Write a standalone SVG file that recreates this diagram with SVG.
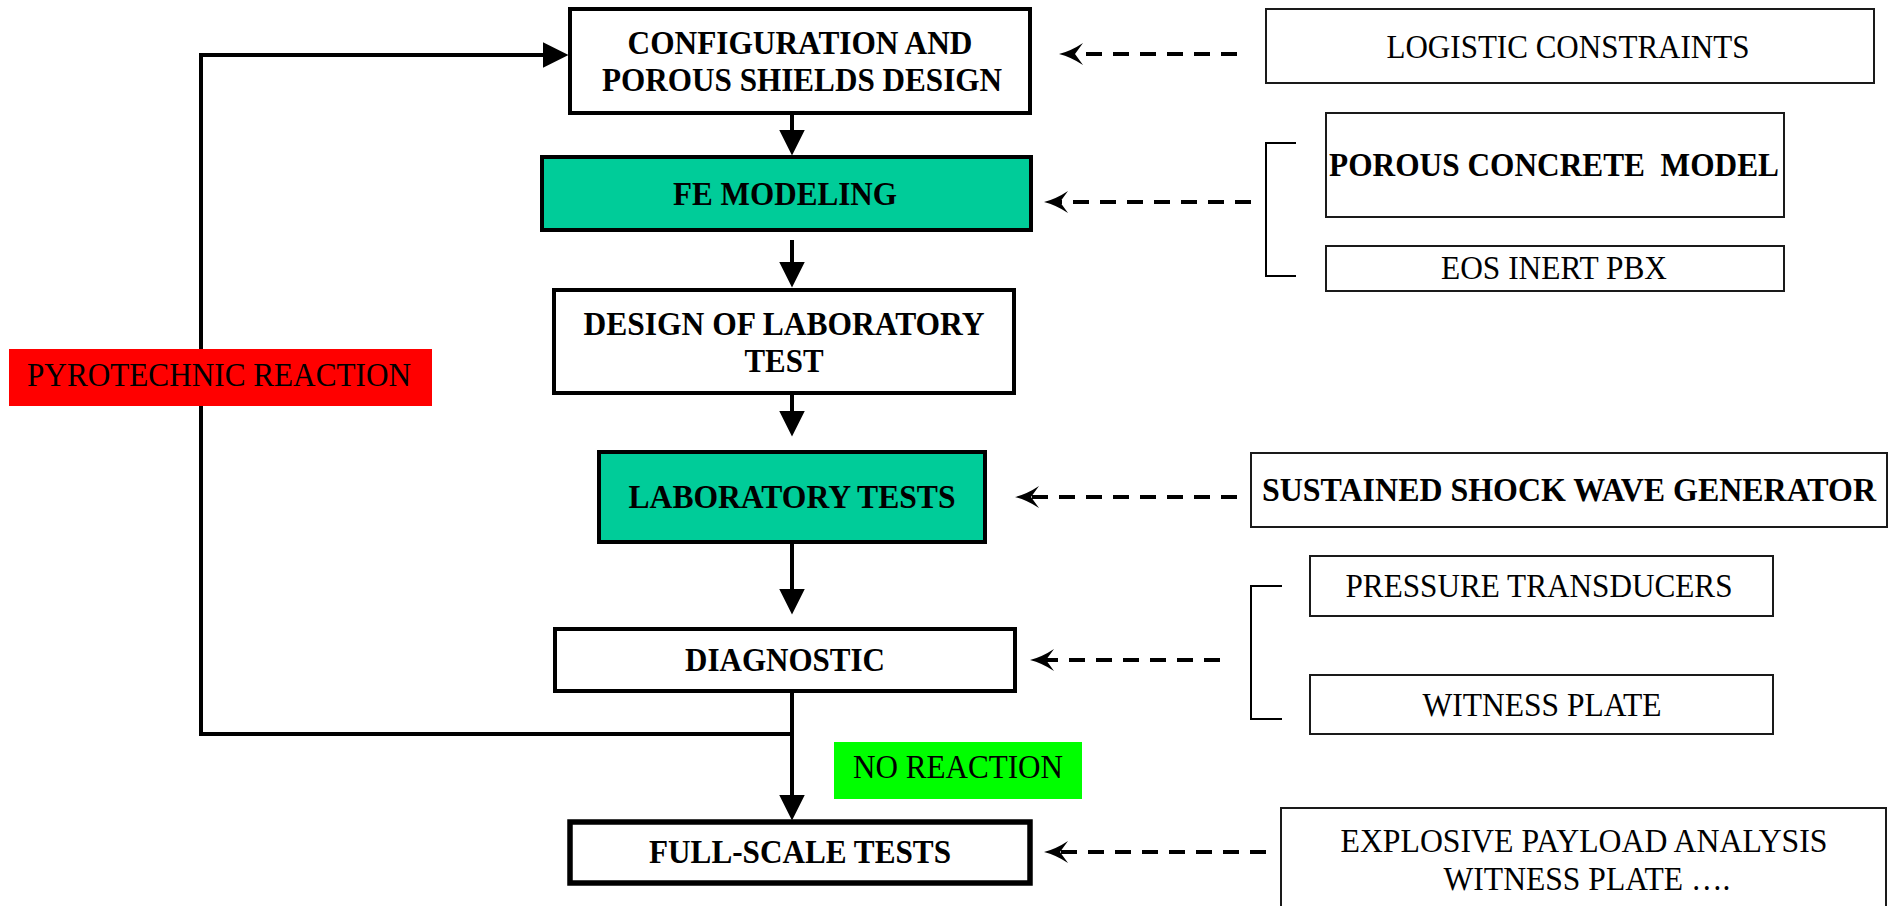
<svg xmlns="http://www.w3.org/2000/svg" width="1895" height="906" viewBox="0 0 1895 906">
<style>
  .bg{fill:#ffffff}
  .main{fill:#ffffff;stroke:#000;stroke-width:4}
  .teal{fill:#00CC99;stroke:#000;stroke-width:4}
  .thick{fill:#ffffff;stroke:#000;stroke-width:5.5}
  .side{fill:#ffffff;stroke:#1a1a1a;stroke-width:2}
  .red{fill:#FF0000}
  .green{fill:#00FF00}
  .tb{font-family:"Liberation Serif","Times New Roman",serif;font-size:33px;font-weight:bold;fill:#000;text-anchor:middle}
  .tr{font-family:"Liberation Serif","Times New Roman",serif;font-size:33px;fill:#000;text-anchor:middle}
  .solid{fill:none;stroke:#000;stroke-width:4;marker-end:url(#ah)}
  .dash{fill:none;stroke:#000;stroke-width:4;stroke-dasharray:16 11;marker-end:url(#dh)}
  .bracket{fill:none;stroke:#000;stroke-width:2}
</style>
<defs>
  <marker id="ah" viewBox="0 0 26 26" refX="0.5" refY="13" markerWidth="26" markerHeight="26" markerUnits="userSpaceOnUse" orient="auto">
    <path d="M0,0 L26,13 L0,26 Z" fill="#000"/>
  </marker>
  <marker id="dh" viewBox="0 0 24 22" refX="8" refY="11" markerWidth="24" markerHeight="22" markerUnits="userSpaceOnUse" orient="auto">
    <path d="M24,11 Q12,8 0,0 L8,11 L0,22 Q12,14 24,11 Z" fill="#000"/>
  </marker>
</defs>
<rect class="bg" x="0" y="0" width="1895" height="906"/>

<g id="connectors">
  <path class="solid" d="M792,113 V130"/>
  <path class="solid" d="M792,240 V262"/>
  <path class="solid" d="M792,394 V411"/>
  <path class="solid" d="M792,543 V589"/>
  <path class="solid" d="M792,691 V795"/>
  <path class="solid" d="M792,734 H201 V55 H543" stroke-linejoin="miter"/>
  <path class="dash" d="M1237,54 H1075"/>
  <path class="dash" d="M1251,202 H1060"/>
  <path class="dash" d="M1237,497 H1031"/>
  <path class="dash" d="M1220,660 H1046"/>
  <path class="dash" d="M1266,852 H1060"/>
  <path class="bracket" d="M1296,143 H1266 V276 H1296"/>
  <path class="bracket" d="M1282,586 H1251 V719 H1282"/>
</g>

<g id="config">
  <rect class="main" x="570" y="9" width="460" height="104"/>
  <text class="tb" x="800" y="54" textLength="345" lengthAdjust="spacingAndGlyphs">CONFIGURATION AND</text>
  <text class="tb" x="802" y="91" textLength="400" lengthAdjust="spacingAndGlyphs">POROUS SHIELDS DESIGN</text>
</g>
<g id="fe-modeling">
  <rect class="teal" x="542" y="157" width="489" height="73"/>
  <text class="tb" x="785" y="205" textLength="224" lengthAdjust="spacingAndGlyphs">FE MODELING</text>
</g>
<g id="design-lab">
  <rect class="main" x="554" y="290" width="460" height="103"/>
  <text class="tb" x="784" y="335" textLength="401" lengthAdjust="spacingAndGlyphs">DESIGN OF LABORATORY</text>
  <text class="tb" x="784" y="372" textLength="79" lengthAdjust="spacingAndGlyphs">TEST</text>
</g>
<g id="lab-tests">
  <rect class="teal" x="599" y="452" width="386" height="90"/>
  <text class="tb" x="792" y="508" textLength="327" lengthAdjust="spacingAndGlyphs">LABORATORY TESTS</text>
</g>
<g id="diagnostic">
  <rect class="main" x="555" y="629" width="460" height="62"/>
  <text class="tb" x="785" y="671" textLength="200" lengthAdjust="spacingAndGlyphs">DIAGNOSTIC</text>
</g>
<g id="full-scale">
  <rect class="thick" x="570" y="822" width="460" height="61"/>
  <text class="tb" x="800" y="863" textLength="302" lengthAdjust="spacingAndGlyphs">FULL-SCALE TESTS</text>
</g>
<g id="pyrotechnic">
  <rect class="red" x="9" y="349" width="423" height="57"/>
  <text class="tr" x="219" y="386" textLength="384" lengthAdjust="spacingAndGlyphs">PYROTECHNIC REACTION</text>
</g>
<g id="no-reaction">
  <rect class="green" x="834" y="742" width="248" height="57"/>
  <text class="tr" x="958" y="778" textLength="210" lengthAdjust="spacingAndGlyphs">NO REACTION</text>
</g>
<g id="logistic">
  <rect class="side" x="1266" y="9" width="608" height="74"/>
  <text class="tr" x="1568" y="58" textLength="363" lengthAdjust="spacingAndGlyphs">LOGISTIC CONSTRAINTS</text>
</g>
<g id="porous-concrete">
  <rect class="side" x="1326" y="113" width="458" height="104"/>
  <text class="tb" x="1554" y="176" xml:space="preserve" style="white-space:pre" textLength="450" lengthAdjust="spacingAndGlyphs">POROUS CONCRETE  MODEL</text>
</g>
<g id="eos">
  <rect class="side" x="1326" y="246" width="458" height="45"/>
  <text class="tr" x="1554" y="279" textLength="226" lengthAdjust="spacingAndGlyphs">EOS INERT PBX</text>
</g>
<g id="sustained">
  <rect class="side" x="1251" y="453" width="636" height="74"/>
  <text class="tb" x="1569" y="501" textLength="614" lengthAdjust="spacingAndGlyphs">SUSTAINED SHOCK WAVE GENERATOR</text>
</g>
<g id="pressure">
  <rect class="side" x="1310" y="556" width="463" height="60"/>
  <text class="tr" x="1539" y="597" textLength="387" lengthAdjust="spacingAndGlyphs">PRESSURE TRANSDUCERS</text>
</g>
<g id="witness">
  <rect class="side" x="1310" y="675" width="463" height="59"/>
  <text class="tr" x="1542" y="716" textLength="239" lengthAdjust="spacingAndGlyphs">WITNESS PLATE</text>
</g>
<g id="explosive">
  <rect class="side" x="1281" y="808" width="605" height="110"/>
  <text class="tr" x="1584" y="852" textLength="487" lengthAdjust="spacingAndGlyphs">EXPLOSIVE PAYLOAD ANALYSIS</text>
  <text class="tr" x="1587" y="890" textLength="287" lengthAdjust="spacingAndGlyphs">WITNESS PLATE ….</text>
</g>
</svg>
